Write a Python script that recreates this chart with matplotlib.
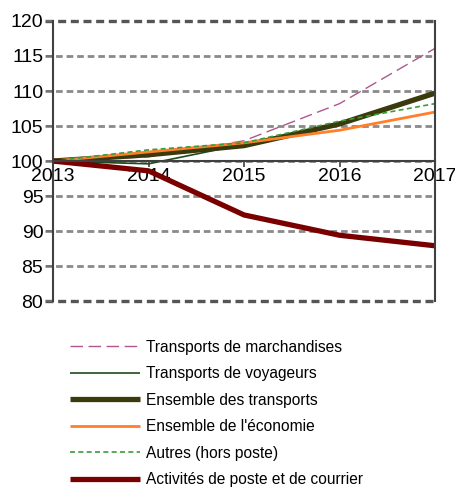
import matplotlib.pyplot as plt

years = [2013, 2014, 2015, 2016, 2017]

marchandises = [100, 100.6, 102.9, 108.2, 116.1]
voyageurs = [100, 99.6, 102.4, 105.5, 109.5]
transports = [100, 100.9, 102.2, 105.3, 109.7]
economie = [100, 101.3, 102.6, 104.4, 107.0]
autres = [100, 101.6, 102.6, 105.7, 108.2]
poste = [100, 98.6, 92.3, 89.4, 87.9]

labels = [
    "Transports de marchandises",
    "Transports de voyageurs",
    "Ensemble des transports",
    "Ensemble de l'économie",
    "Autres (hors poste)",
    "Activités de poste et de courrier",
]

plt.rcParams["font.family"] = ["Liberation Sans", "DejaVu Sans"]

fig = plt.figure(figsize=(4.56, 4.88), dpi=100)
ax = fig.add_axes([0.1162, 0.383, 0.838, 0.574])

series = [
    (marchandises, dict(color="#b0568c", lw=1.0, dashes=(9, 4))),
    (voyageurs, dict(color="#1f4a1f", lw=1.2)),
    (transports, dict(color="#3a3a0c", lw=3.8)),
    (economie, dict(color="#ff7f2a", lw=2.0)),
    (autres, dict(color="#3a9c3a", lw=1.2, dashes=(3, 2))),
    (poste, dict(color="#7a0000", lw=3.8)),
]
handles = []
for vals, style in series:
    h, = ax.plot(years, vals, solid_capstyle="butt", **style)
    handles.append(h)

ax.set_xlim(2013, 2017)
ax.set_ylim(80, 120)
ax.set_yticks(range(80, 121, 5))
ax.set_xticks(years)

# dashed horizontal grid, darker at the frame edges
for y in range(80, 121, 5):
    edge = y in (80, 120)
    ax.axhline(y, xmin=-0.02, xmax=1, color="#555555" if edge else "#8a8a8a",
               lw=2.4 if edge else 2.0, linestyle=(0, (2.4, 1.4)),
               clip_on=False, zorder=0)

ax.spines["top"].set_visible(False)
ax.spines["bottom"].set_position(("data", 100))
for s in ("left", "right", "bottom"):
    ax.spines[s].set_color("#404040")
    ax.spines[s].set_linewidth(1.5)

ax.tick_params(axis="y", labelsize=14, length=5, width=1.2, color="#707070", pad=2)
ax.tick_params(axis="x", labelsize=14, length=4, width=1.2, color="#404040", pad=1)

fig.legend(handles, labels, loc="upper left", bbox_to_anchor=(0.153, 0.304),
           frameon=False, fontsize=11.2, handlelength=4.5, handletextpad=0.4,
           labelspacing=0.74, borderpad=0, borderaxespad=0)

fig.savefig("out.png", dpi=100)
